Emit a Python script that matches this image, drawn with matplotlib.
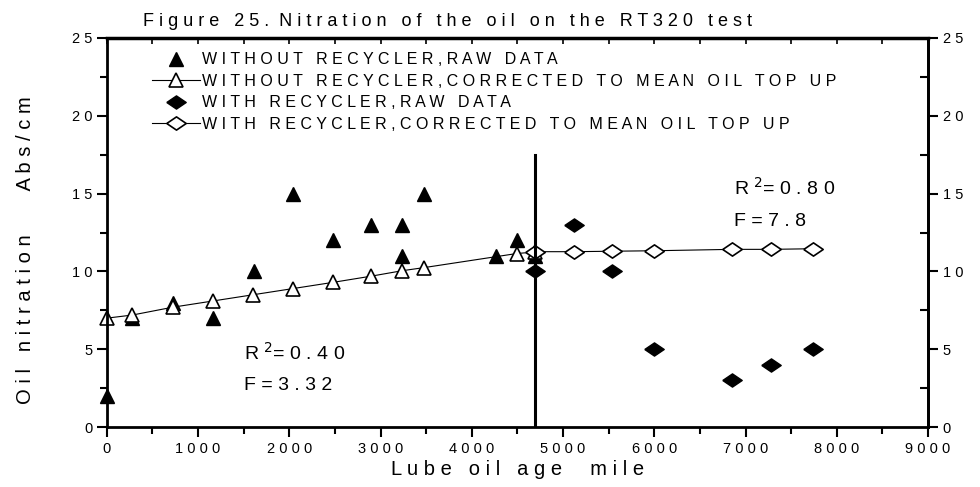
import matplotlib.pyplot as plt
from matplotlib.ticker import MultipleLocator, NullFormatter

plt.rcParams['font.family'] = ['Liberation Sans', 'DejaVu Sans']

sin_x = [0, 280, 720, 1160, 1610, 2040, 2480, 2900, 3240, 3240, 3480, 4265, 4490, 4690]
sin_y = [2, 7, 8, 7, 10, 15, 12, 13, 13, 11, 15, 11, 12, 11]

sin_corr_x = [0, 280, 720, 1160, 1600, 2040, 2480, 2900, 3240, 3480, 4490, 4690]
sin_corr_y = [7.0, 7.2, 7.7, 8.1, 8.5, 8.9, 9.3, 9.7, 10.05, 10.25, 11.15, 11.25]

con_x = [4690, 5120, 5540, 6000, 6850, 7280, 7740]
con_y = [10, 13, 10, 5, 3, 4, 5]

con_corr_x = [4690, 5120, 5540, 6000, 6850, 7280, 7740]
con_corr_y = [11.27, 11.27, 11.3, 11.33, 11.42, 11.42, 11.46]

linea_x = 4690
linea_top = 17.5

etiquetas = ['WITHOUT RECYCLER,RAW DATA',
             'WITHOUT RECYCLER,CORRECTED TO MEAN OIL TOP UP',
             'WITH RECYCLER,RAW DATA',
             'WITH RECYCLER,CORRECTED TO MEAN OIL TOP UP']


def sep(s):
    # el original tiene letras muy espaciadas
    return ' '.join(s)


# rombo achatado como en el original
rombo = [(-1, 0), (0, 0.68), (1, 0), (0, -0.68), (-1, 0)]

fig = plt.figure(figsize=(9.8, 4.87), dpi=100)
ax = fig.add_axes([0.109, 0.123, 0.838, 0.799])

ax.plot(sin_x, sin_y, linestyle='none', marker='^', color='black', ms=10,
        clip_on=False, label=sep(etiquetas[0]))
ax.plot(sin_corr_x, sin_corr_y, color='black', lw=0.8, marker='^', mfc='white', mec='black',
        ms=10, mew=1.2, clip_on=False, label=sep(etiquetas[1]))
ax.plot(con_x, con_y, linestyle='none', marker=rombo, color='black', ms=14,
        label=sep(etiquetas[2]))
ax.plot(con_corr_x, con_corr_y, color='black', lw=0.8, marker=rombo, mfc='white', mec='black',
        ms=14, mew=1.2, label=sep(etiquetas[3]))

ax.plot([linea_x, linea_x], [0, linea_top], color='black', lw=2.2)

ax.text(1500, 4.8, 'R $^{2}$= 0 . 4 0', fontsize=14, va='center')
ax.text(1500, 2.7, 'F = 3 . 3 2', fontsize=14, va='center')
ax.text(6870, 15.4, 'R $^{2}$= 0 . 8 0', fontsize=14, va='center')
ax.text(6870, 13.2, 'F = 7 . 8', fontsize=14, va='center')

ax.set_xlim(0, 9000)
ax.set_ylim(0, 25)

xt = list(range(0, 9001, 1000))
ax.set_xticks(xt)
ax.set_xticklabels([sep(str(v)) for v in xt], fontsize=10.5)
ax.xaxis.set_minor_locator(MultipleLocator(500))
yt = list(range(0, 26, 5))
ax.set_yticks(yt)
ax.set_yticklabels([sep(str(v)) for v in yt], fontsize=10.5)
ax.yaxis.set_minor_locator(MultipleLocator(2.5))

ax.tick_params(which='both', direction='out', width=1.5, labelsize=10.5)
ax.tick_params(which='major', length=7)
ax.tick_params(which='minor', length=5)
for s in ax.spines.values():
    s.set_linewidth(2)

# eje superior con marcas hacia dentro
arriba = ax.secondary_xaxis('top')
arriba.set_xticks(xt)
arriba.xaxis.set_minor_locator(MultipleLocator(500))
arriba.xaxis.set_major_formatter(NullFormatter())
arriba.tick_params(which='both', direction='in', length=4, width=1.2)
arriba.spines['top'].set_linewidth(2.5)

# eje derecho con etiquetas
derecha = ax.secondary_yaxis('right')
derecha.set_yticks(yt)
derecha.set_yticklabels([sep(str(v)) for v in yt], fontsize=10.5)
derecha.yaxis.set_minor_locator(MultipleLocator(2.5))
derecha.tick_params(which='major', direction='out', length=7, width=1.5)
derecha.tick_params(which='minor', direction='in', length=6, width=1.5)
derecha.spines['right'].set_linewidth(2)

ax.set_xlabel(sep('Lube oil age') + '     ' + sep('mile'), fontsize=14.5, labelpad=3)
fig.text(0.026, 0.487, sep('Oil nitration') + '        ' + sep('Abs/cm'), fontsize=14.5,
         rotation=90, ha='center', va='center')
fig.text(0.457, 0.955, sep('Figure 25.') + '  ' + sep('Nitration of the oil on the RT320 test'),
         fontsize=13, ha='center', va='center')

ax.legend(loc='upper left', bbox_to_anchor=(0.038, 1.0), frameon=False, fontsize=11.5,
          handlelength=3.0, handletextpad=0.1, labelspacing=0.4, borderaxespad=0.5)

fig.savefig('out.png', dpi=100)
